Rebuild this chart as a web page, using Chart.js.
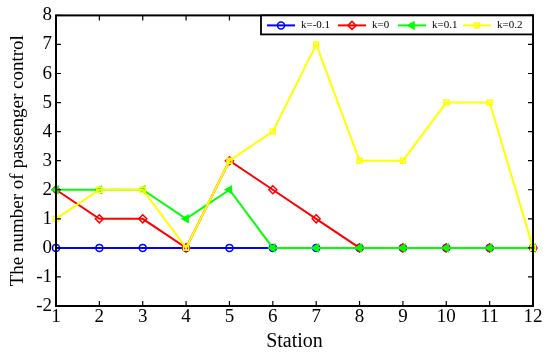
<!DOCTYPE html>
<html>
<head>
<meta charset="utf-8">
<script src="https://cdn.jsdelivr.net/npm/chart.js@4/dist/chart.umd.min.js"></script>
<style>
html,body{margin:0;padding:0;background:#fff;}
#wrap{width:550px;height:358px;position:relative;}
</style>
</head>
<body>
<div id="wrap"><canvas id="c" width="550" height="358"></canvas></div>
<script>
const stations = [1,2,3,4,5,6,7,8,9,10,11,12];
const kNeg01 = [0,0,0,0,0,0,0,0,0,0,0,0];
const k0     = [2,1,1,0,3,2,1,0,0,0,0,0];
const k01    = [2,2,2,1,2,0,0,0,0,0,0,0];
const k02    = [1,2,2,0,3,4,7,3,3,5,5,0];
const seriesLabels = ['k=-0.1','k=0','k=0.1','k=0.2'];
const yTicks = [-2,-1,0,1,2,3,4,5,6,7,8];

const FONT = '"Liberation Serif", "Times New Roman", serif';

const styles = [
  {color:'#0000FF', pointStyle:'circle', rot:0, radius:3.5, order:3},
  {color:'#FF0000', pointStyle:'rectRot', rot:0, radius:4, order:2},
  {color:'#00FF00', pointStyle:'triangle', rot:-90, radius:4, order:1},
  {color:'#FFFF00', pointStyle:'rect', rot:0, radius:3.5, order:0}
];
const values = [kNeg01, k0, k01, k02];

const datasets = values.map((v,i)=>({
  label: seriesLabels[i],
  data: v.map((y,j)=>({x: stations[j], y: y})),
  borderColor: styles[i].color,
  backgroundColor: 'rgba(0,0,0,0)',
  pointBorderColor: styles[i].color,
  pointBackgroundColor: i===2 ? styles[i].color : 'rgba(0,0,0,0)',
  pointStyle: styles[i].pointStyle,
  pointRotation: styles[i].rot,
  pointRadius: styles[i].radius,
  pointBorderWidth: 1.5,
  borderWidth: 2,
  tension: 0,
  order: styles[i].order,
  clip: false
}));

const framePlugin = {
  id: 'frame',
  afterDatasetsDraw(chart){
    const ctx = chart.ctx;
    const a = chart.chartArea;
    const xs = chart.scales.x, ys = chart.scales.y;
    ctx.save();
    ctx.strokeStyle = '#000';
    ctx.lineWidth = 1.2;
    const tl = 5;
    ctx.beginPath();
    stations.forEach(s=>{
      const px = xs.getPixelForValue(s);
      ctx.moveTo(px, a.bottom); ctx.lineTo(px, a.bottom - tl);
      ctx.moveTo(px, a.top); ctx.lineTo(px, a.top + tl);
    });
    yTicks.forEach(t=>{
      const py = ys.getPixelForValue(t);
      ctx.moveTo(a.left, py); ctx.lineTo(a.left + tl, py);
      ctx.moveTo(a.right, py); ctx.lineTo(a.right - tl, py);
    });
    ctx.stroke();
    ctx.lineWidth = 2;
    ctx.strokeRect(a.left, a.top, a.right - a.left, a.bottom - a.top);

    // legend
    const bx = 261, by = a.top, bw = a.right - bx, bh = 19;
    ctx.fillStyle = '#fff';
    ctx.fillRect(bx, by, bw, bh);
    ctx.lineWidth = 1.8;
    ctx.strokeRect(bx, by, bw, bh);
    ctx.font = '11px ' + FONT;
    ctx.textBaseline = 'middle';
    ctx.textAlign = 'left';
    const starts = [bx + 6, bx + 77, bx + 137, bx + 202];
    const cy = by + bh/2 + 0.5;
    chart.data.datasets.forEach((ds,i)=>{
      const x = starts[i];
      ctx.strokeStyle = ds.borderColor;
      ctx.lineWidth = 2;
      ctx.beginPath(); ctx.moveTo(x, cy); ctx.lineTo(x+28, cy); ctx.stroke();
      ctx.lineWidth = 1.5;
      ctx.fillStyle = ds.pointBackgroundColor;
      Chart.helpers.drawPoint(ctx, {pointStyle: ds.pointStyle, rotation: ds.pointRotation, radius: ds.pointRadius, borderWidth: 1.5}, x+14, cy);
      ctx.fillStyle = '#000';
      ctx.fillText(ds.label, x + 34, cy);
    });
    ctx.restore();
  }
};

new Chart(document.getElementById('c'), {
  type: 'line',
  data: { datasets },
  plugins: [framePlugin],
  options: {
    responsive: false,
    animation: false,
    layout: { padding: { top: 14, right: 17, left: 0, bottom: 0 } },
    plugins: { legend: { display: false }, tooltip: { enabled: false } },
    scales: {
      x: {
        type: 'linear', min: 1, max: 12,
        grid: { display: false, drawTicks: false },
        border: { display: false },
        ticks: { stepSize: 1, color: '#000', font: { family: FONT, size: 19 }, padding: 0, maxRotation: 0, autoSkip: false },
        title: { display: true, text: 'Station', color: '#000', font: { family: FONT, size: 20 }, padding: { top: 0, bottom: 4 } },
        afterFit(s){ s.height = 52; }
      },
      y: {
        type: 'linear', min: -2, max: 8,
        grid: { display: false, drawTicks: false },
        border: { display: false },
        ticks: { stepSize: 1, color: '#000', font: { family: FONT, size: 19 }, padding: 4 },
        title: { display: true, text: 'The number of passenger control', color: '#000', font: { family: FONT, size: 19 }, padding: { top: 7, bottom: 0 } },
        afterFit(s){ s.width = 56; }
      }
    }
  }
});
</script>
</body>
</html>
